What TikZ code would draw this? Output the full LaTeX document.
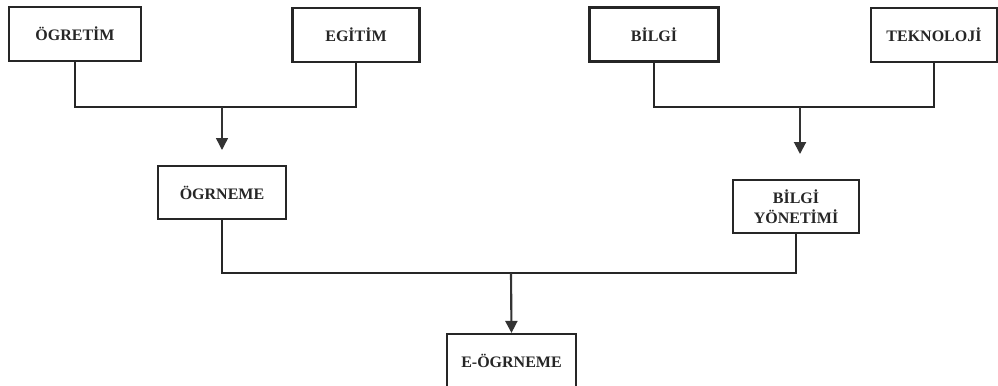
\documentclass[tikz,border=0pt]{standalone}
\usepackage{fontspec}
\setmainfont{Liberation Serif}
\usetikzlibrary{arrows.meta}
\tikzset{
  box/.style={draw=black!85, line width=1.6pt, fill=white, minimum width=#1, minimum height=54*0.75pt, inner sep=0pt, align=center, font=\fontsize{12}{14}\selectfont\bfseries, text=black!85},
  box/.default=128*0.75pt,
  link/.style={draw=black!85, line width=1.6pt},
  arr/.style={draw=black!80, line width=1.1pt, -{Triangle[length=9pt,width=9pt]}}
}
\begin{document}
\begin{tikzpicture}[x=0.75pt,y=-0.75pt]
\clip (0,0) rectangle (998,385);
\fill[white] (0,0) rectangle (998,385);
\node[box=132*0.75pt] (ogretim) at (75,34) {ÖGRETİM};
\node[box=127*0.75pt] (egitim) at (356,35) {EGİTİM};
\node[box=129*0.75pt] (bilgi) at (654,34.5) {BİLGİ};
\node[box=126*0.75pt] (teknoloji) at (934,35) {TEKNOLOJİ};
\node[box=128*0.75pt, minimum height=53*0.75pt] (ogrenme) at (222,192.5) {ÖGRNEME};
\node[box=126*0.75pt, minimum height=53*0.75pt] (bilgiyon) at (796,206.5) {BİLGİ\\[1pt]YÖNETİMİ};
\node[box=129*0.75pt, minimum height=54*0.75pt] (eogrenme) at (511.5,361) {E-ÖGRNEME};
\coordinate (m1) at (222,107);
\coordinate (t1) at (222,150);
\coordinate (m2) at (800,107);
\coordinate (t2) at (800,154);
\coordinate (m3) at (511,273);
\draw[link] (ogretim.south) |- (m1) -| (egitim.south);
\draw[arr] (m1) -- (t1);
\draw[link] (bilgi.south) |- (m2) -| (teknoloji.south);
\draw[arr, line width=1.5pt] (m2) -- (t2);
\draw[link] (ogrenme.south) |- (m3) -| (bilgiyon.south);
\draw[arr, line width=1.6pt] (m3) -- (eogrenme.north);
\end{tikzpicture}
\end{document}
